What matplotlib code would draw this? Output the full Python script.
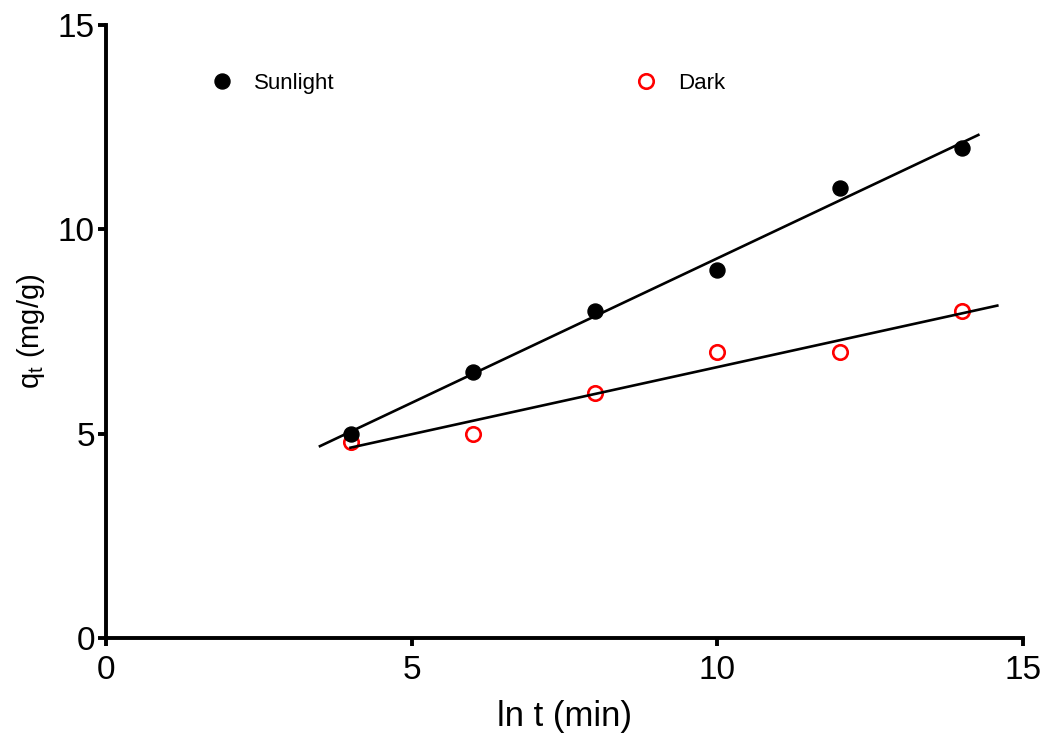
import matplotlib
matplotlib.use("Agg")
import matplotlib.pyplot as plt
import numpy as np

plt.rcParams['font.family'] = ['Liberation Sans', 'DejaVu Sans']
plt.rcParams['mathtext.fontset'] = 'custom'
plt.rcParams['mathtext.rm'] = 'Liberation Sans'
plt.rcParams['mathtext.it'] = 'Liberation Sans'

# ln t values and adsorbed amount q_t
ln_t = np.array([4, 6, 8, 10, 12, 14])
q_sun = np.array([5.0, 6.5, 8.0, 9.0, 11.0, 12.0])
q_dark = np.array([4.8, 5.0, 6.0, 7.0, 7.0, 8.0])

# range over which each fitted line is drawn
sun_fit_range = (3.5, 14.27)
dark_fit_range = (4.0, 14.58)


def fit_line(x, y, xr):
    k, b = np.polyfit(x, y, 1)
    xs = np.array(xr)
    return xs, k * xs + b


fig = plt.figure(figsize=(10.57, 7.42), dpi=100)
ax = fig.add_axes([0.1003, 0.1402, 0.8675, 0.8261])

ax.plot(ln_t, q_dark, 'o', ms=10.4, mfc='white', mec='#ff0000', mew=1.9,
        label='Dark', zorder=3, clip_on=False)

xs, ys = fit_line(ln_t, q_sun, sun_fit_range)
ax.plot(xs, ys, color='black', lw=1.9, zorder=4)
xs, ys = fit_line(ln_t, q_dark, dark_fit_range)
ax.plot(xs, ys, color='black', lw=1.9, zorder=4)

ax.plot(ln_t, q_sun, 'o', ms=10.8, color='black', label='Sunlight', zorder=5)

ax.set_xlim(0, 15)
ax.set_ylim(0, 15)
ax.set_xticks([0, 5, 10, 15])
ax.set_yticks([0, 5, 10, 15])

for side in ['top', 'right']:
    ax.spines[side].set_visible(False)
for side in ['left', 'bottom']:
    ax.spines[side].set_linewidth(2.8)
ax.tick_params(direction='out', length=6, width=2.8, labelsize=24)
ax.tick_params(axis='x', pad=6)
ax.tick_params(axis='y', pad=2)

ax.set_xlabel('ln t (min)', fontsize=25, labelpad=10)
ax.set_ylabel('q$_{\\mathrm{t}}$ (mg/g)', fontsize=21, labelpad=8)

h, l = ax.get_legend_handles_labels()
ax.legend(h[::-1], l[::-1], ncol=2, loc='center left',
          bbox_to_anchor=(0.1145, 0.905), frameon=False, fontsize=16,
          handlelength=1.0, handletextpad=0.95, columnspacing=13.5,
          borderpad=0, borderaxespad=0)

fig.savefig('out.png', dpi=100)
